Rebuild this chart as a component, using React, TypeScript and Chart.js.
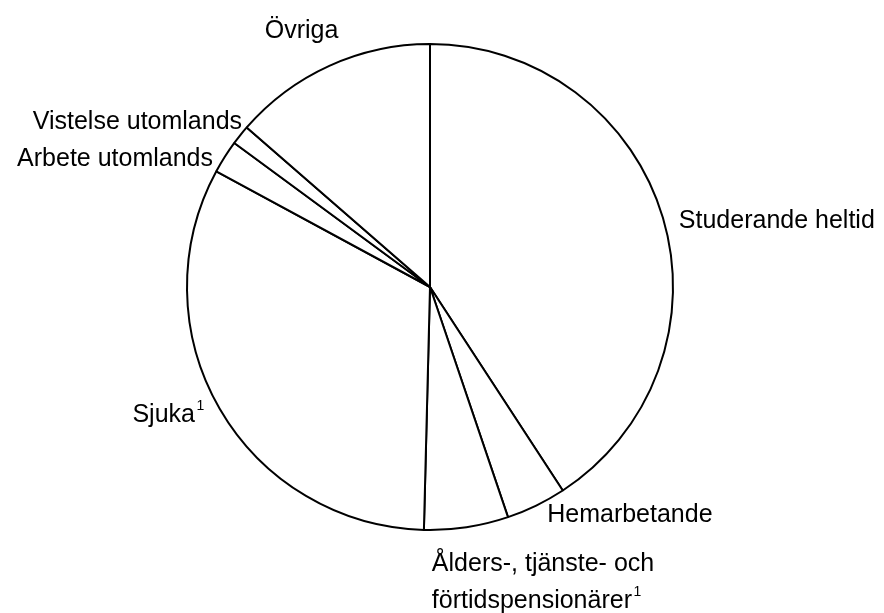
import React, { useEffect, useRef } from "react";
import { Chart, registerables } from "chart.js";

Chart.register(...registerables);

// ---- Data ----
const categories = [
  "Studerande heltid",
  "Hemarbetande",
  "Ålders-, tjänste- och förtidspensionärer",
  "Sjuka",
  "Arbete utomlands",
  "Vistelse utomlands",
  "Övriga",
];
const shares = [40.8, 4.0, 5.6, 32.5, 2.2, 1.3, 13.6];
const labelLines = [
  ["Studerande heltid"],
  ["Hemarbetande"],
  ["Ålders-, tjänste- och", "förtidspensionärer"],
  ["Sjuka"],
  ["Arbete utomlands"],
  ["Vistelse utomlands"],
  ["Övriga"],
];
const footnoteMarks = ["", "", "1", "1", "", "", ""];

// ---- Label layout (relative to each slice's mid angle) ----
const labelLayout = [
  { align: "left", pad: 15, dA: 1.25 },
  { align: "left", pad: 11.5, dA: -1.5 },
  { align: "left", pad: 32, dA: 8.25 },
  { align: "right", pad: 23.6, dA: 1.9 },
  { align: "right", pad: 10, dA: -1.45 },
  { align: "right", pad: 8.5, dA: 2.95 },
  { align: "center", pad: 45, dA: -2 },
];

const FONT_FAMILY = '"Liberation Sans", Arial, Helvetica, sans-serif';
const FONT_SIZE = 25;
const SUP_SIZE = 14;
const LINE_HEIGHT = 37;

const labelPlugin = {
  id: "outerLabels",
  afterDatasetsDraw(chart: any) {
    const ctx = chart.ctx as CanvasRenderingContext2D;
    const meta = chart.getDatasetMeta(0);
    meta.data.forEach((arc: any, i: number) => {
      const { x, y, startAngle, endAngle, outerRadius } = arc.getProps(
        ["x", "y", "startAngle", "endAngle", "outerRadius"],
        true
      );
      const lay = labelLayout[i];
      const mid = (startAngle + endAngle) / 2 + (lay.dA * Math.PI) / 180;
      const r = outerRadius + lay.pad;
      const ax = x + r * Math.cos(mid);
      const ay = y + r * Math.sin(mid);
      const capMid = FONT_SIZE * 0.36;
      ctx.save();
      ctx.fillStyle = "#000";
      ctx.textBaseline = "alphabetic";
      const lines = labelLines[i];
      lines.forEach((line, li) => {
        const by = ay + capMid + li * LINE_HEIGHT;
        ctx.font = `${FONT_SIZE}px ${FONT_FAMILY}`;
        ctx.textAlign = lay.align as CanvasTextAlign;
        ctx.fillText(line, ax, by);
        if (li === lines.length - 1 && footnoteMarks[i]) {
          const w = ctx.measureText(line).width;
          const endX =
            lay.align === "left" ? ax + w : lay.align === "right" ? ax : ax + w / 2;
          ctx.font = `${SUP_SIZE}px ${FONT_FAMILY}`;
          ctx.textAlign = "left";
          ctx.fillText(footnoteMarks[i], endX + 1.5, by - 12);
        }
      });
      ctx.restore();
    });
  },
};

export default function App() {
  const canvasRef = useRef<HTMLCanvasElement | null>(null);

  useEffect(() => {
    document.body.style.margin = "0";
    const canvas = canvasRef.current;
    if (!canvas) return;
    const chart = new Chart(canvas, {
      type: "pie",
      data: {
        labels: categories,
        datasets: [
          {
            data: shares,
            backgroundColor: "#ffffff",
            borderColor: "#000000",
            borderWidth: 2,
            radius: 243,
          } as any,
        ],
      },
      options: {
        responsive: false,
        animation: false,
        events: [],
        layout: { padding: { left: 0, right: 24, top: 0, bottom: 39 } },
        plugins: {
          legend: { display: false },
          tooltip: { enabled: false },
        },
      },
      plugins: [labelPlugin],
    });
    return () => chart.destroy();
  }, []);

  return (
    <div style={{ width: 884, height: 613, background: "#fff" }}>
      <canvas ref={canvasRef} width={884} height={613} style={{ display: "block" }} />
    </div>
  );
}
